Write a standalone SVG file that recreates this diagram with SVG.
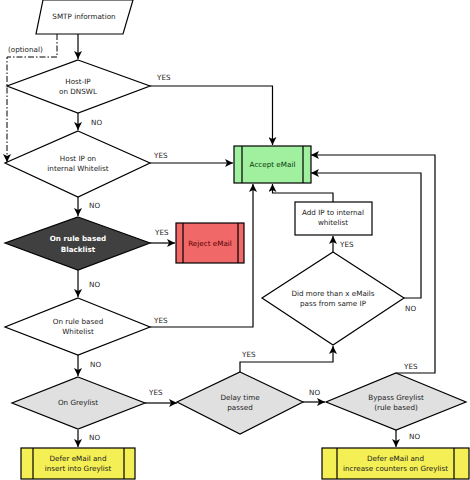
<svg xmlns="http://www.w3.org/2000/svg" width="470" height="480" viewBox="0 0 470 480">
<style>
text{font-family:"DejaVu Sans","Liberation Sans",sans-serif;font-size:7.2px;fill:#222;text-anchor:middle}
.lbl{text-anchor:start}
.sh{stroke:#000;stroke-width:1.2}
.ln{fill:none;stroke:#000;stroke-width:1.2}
.dd{fill:none;stroke:#000;stroke-width:1;stroke-dasharray:6,2,1.5,2}
</style>
<defs>
<marker id="ah" viewBox="0 0 10 10" refX="10" refY="5" markerWidth="8" markerHeight="8" markerUnits="userSpaceOnUse" orient="auto">
<path d="M0,0 L10,5 L0,10 L2.5,5 Z" fill="#000"/>
</marker>
</defs>
<rect width="470" height="480" fill="#fff"/>
<g id="connectors">
<path class="ln" d="M78,34 V59" marker-end="url(#ah)"/>
<path class="dd" d="M57,34 V57 H7 V162" marker-end="url(#ah)"/>
<path class="ln" d="M150,86 H272.5 V145" marker-end="url(#ah)"/>
<path class="ln" d="M78,113 V130" marker-end="url(#ah)"/>
<path class="ln" d="M150,163 H233" marker-end="url(#ah)"/>
<path class="ln" d="M78,197 V216" marker-end="url(#ah)"/>
<path class="ln" d="M150,243 H175" marker-end="url(#ah)"/>
<path class="ln" d="M78,270 V297" marker-end="url(#ah)"/>
<path class="ln" d="M150,327 H253 V184" marker-end="url(#ah)"/>
<path class="ln" d="M78,355 V376" marker-end="url(#ah)"/>
<path class="ln" d="M145,403 H177" marker-end="url(#ah)"/>
<path class="ln" d="M303,402 H325" marker-end="url(#ah)"/>
<path class="ln" d="M240,372 V362 H333 V346" marker-end="url(#ah)"/>
<path class="ln" d="M333,252 V236" marker-end="url(#ah)"/>
<path class="ln" d="M333,202 V193 H272.5 V184" marker-end="url(#ah)"/>
<path class="ln" d="M404,298 H421 V173 H311" marker-end="url(#ah)"/>
<path class="ln" d="M396,373 H435 V155 H311" marker-end="url(#ah)"/>
<path class="ln" d="M78,430 V447" marker-end="url(#ah)"/>
<path class="ln" d="M396,430 V447" marker-end="url(#ah)"/>
<text class="lbl" x="8" y="52">(optional)</text>
<text class="lbl" x="157" y="80">YES</text>
<text class="lbl" x="91" y="125">NO</text>
<text class="lbl" x="154" y="158">YES</text>
<text class="lbl" x="89" y="208">NO</text>
<text class="lbl" x="155" y="235">YES</text>
<text class="lbl" x="89" y="287">NO</text>
<text class="lbl" x="154" y="323">YES</text>
<text class="lbl" x="90" y="367">NO</text>
<text class="lbl" x="149" y="395">YES</text>
<text class="lbl" x="89" y="440">NO</text>
<text class="lbl" x="242" y="357">YES</text>
<text class="lbl" x="309" y="395">NO</text>
<text class="lbl" x="340" y="247">YES</text>
<text class="lbl" x="405" y="311">NO</text>
<text class="lbl" x="404" y="369">YES</text>
<text class="lbl" x="409" y="439">NO</text>
</g>
<g id="smtp">
<polygon class="sh" points="43,0 133,0 123,34 36,34" fill="#fff"/>
<text x="84" y="19">SMTP information</text>
</g>
<g id="dnswl">
<polygon class="sh" points="78,60 150,86 78,113 7,86" fill="#fff"/>
<text x="78" y="84">Host-IP</text>
<text x="78" y="94">on DNSWL</text>
</g>
<g id="internal-whitelist">
<polygon class="sh" points="78,131 150,163 78,197 5,163" fill="#fff"/>
<text x="78" y="161">Host IP on</text>
<text x="78" y="171">internal Whitelist</text>
</g>
<g id="blacklist">
<polygon class="sh" points="78,217 150,243 78,270 5,243" fill="#404040"/>
<text x="78" y="241" style="fill:#fff;font-weight:bold">On rule based</text>
<text x="78" y="252" style="fill:#fff;font-weight:bold">Blacklist</text>
</g>
<g id="rule-whitelist">
<polygon class="sh" points="78,298 150,327 78,355 5,327" fill="#fff"/>
<text x="78" y="324">On rule based</text>
<text x="78" y="334">Whitelist</text>
</g>
<g id="greylist">
<polygon class="sh" points="78,377 145,403 78,429 12,403" fill="#e0e0e0"/>
<text x="78" y="405">On Greylist</text>
</g>
<g id="delay">
<polygon class="sh" points="240,372 303,402 240,434 177,402" fill="#e0e0e0"/>
<text x="240" y="400">Delay time</text>
<text x="240" y="410">passed</text>
</g>
<g id="bypass">
<polygon class="sh" points="396,373 466,402 396,430 326,402" fill="#e0e0e0"/>
<text x="396" y="400">Bypass Greylist</text>
<text x="396" y="410">(rule based)</text>
</g>
<g id="did-more">
<polygon class="sh" points="333,252 404,298 333,345 262,298" fill="#fff"/>
<text x="333" y="296">Did more than x eMails</text>
<text x="333" y="306">pass from same IP</text>
</g>
<g id="add-ip">
<rect class="sh" x="295" y="202" width="77" height="33" fill="#fff"/>
<text x="333" y="215">Add IP to internal</text>
<text x="333" y="225">whitelist</text>
</g>
<g id="accept">
<rect class="sh" x="234" y="146" width="77" height="37" fill="#a0f0a0"/>
<path class="ln" d="M242,146 V183 M303,146 V183"/>
<text x="272.5" y="167" style="fill:#0a3a0a">Accept eMail</text>
</g>
<g id="reject">
<rect class="sh" x="176" y="223" width="68" height="40" fill="#f06868"/>
<path class="ln" d="M183,223 V263 M238,223 V263"/>
<text x="210" y="246" style="fill:#5a0000">Reject eMail</text>
</g>
<g id="defer-insert">
<rect class="sh" x="21" y="448" width="114" height="31" fill="#f4ef55"/>
<path class="ln" d="M33,448 V479 M124,448 V479"/>
<text x="78" y="461">Defer eMail and</text>
<text x="78" y="471">insert into Greylist</text>
</g>
<g id="defer-increase">
<rect class="sh" x="322" y="448" width="147" height="31" fill="#f4ef55"/>
<path class="ln" d="M337,448 V479 M454,448 V479"/>
<text x="395.5" y="461">Defer eMail and</text>
<text x="395.5" y="471">increase counters on Greylist</text>
</g>
</svg>
